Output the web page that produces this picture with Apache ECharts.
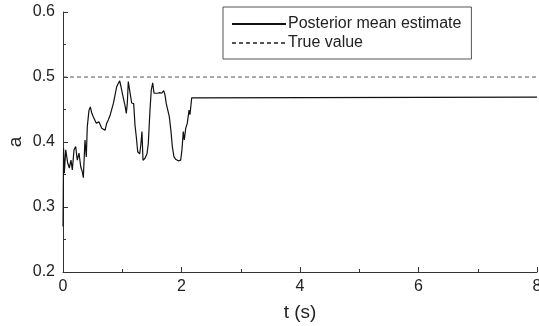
<!DOCTYPE html>
<html>
<head>
<meta charset="utf-8">
<script src="https://cdn.jsdelivr.net/npm/echarts@6/dist/echarts.min.js"></script>
<style>
html, body { margin: 0; padding: 0; background: #fff; }
#chart { width: 539px; height: 326px; }
</style>
</head>
<body>
<div id="chart"></div>
<script>
// time (s) of the posterior mean estimate samples
var timeValues = [0, 0.01, 0.022, 0.046, 0.079, 0.106, 0.135, 0.157, 0.186, 0.214, 0.241, 0.27,
    0.299, 0.326, 0.343, 0.371, 0.393, 0.41, 0.439, 0.461, 0.484, 0.511, 0.54, 0.562,
    0.586, 0.608, 0.63, 0.653, 0.68, 0.709, 0.738, 0.765, 0.798, 0.822, 0.849, 0.878,
    0.906, 0.933, 0.957, 0.979, 1.008, 1.03, 1.051, 1.068, 1.085, 1.102, 1.131, 1.159,
    1.193, 1.215, 1.237, 1.261, 1.295, 1.316, 1.333, 1.35, 1.384, 1.418, 1.44, 1.468,
    1.49, 1.514, 1.536, 1.565, 1.598, 1.632, 1.666, 1.7, 1.722, 1.743, 1.767, 1.794,
    1.823, 1.845, 1.873, 1.907, 1.946, 1.986, 2.008, 2.03, 2.047, 2.071, 2.098, 2.127,
    2.143, 2.172, 8];
var estimateValues = [0.27, 0.39, 0.352, 0.388, 0.368, 0.36, 0.372, 0.357, 0.388, 0.393, 0.372, 0.383,
    0.362, 0.354, 0.345, 0.403, 0.377, 0.424, 0.449, 0.454, 0.445, 0.439, 0.439, 0.429,
    0.426, 0.431, 0.426, 0.421, 0.421, 0.418, 0.429, 0.434, 0.442, 0.444, 0.459, 0.472,
    0.485, 0.49, 0.494, 0.485, 0.472, 0.47, 0.454, 0.444, 0.459, 0.493, 0.491, 0.46,
    0.459, 0.426, 0.408, 0.385, 0.382, 0.398, 0.416, 0.372, 0.375, 0.382, 0.398, 0.449,
    0.48, 0.491, 0.475, 0.478, 0.475, 0.476, 0.475, 0.479, 0.472, 0.459, 0.457, 0.439,
    0.416, 0.393, 0.377, 0.373, 0.371, 0.372, 0.388, 0.416, 0.403, 0.421, 0.429, 0.449,
    0.442, 0.468, 0.469];
var trueTimes = [0, 8];
var trueValues = [0.5, 0.5];

var font = 'Liberation Sans, Arial, sans-serif';

function pairs(xs, ys) {
    var out = [];
    xs.forEach(function (x, i) { out.push([x, ys[i]]); });
    return out;
}

var myChart = echarts.init(document.getElementById('chart'));
var option = {
    animation: false,
    backgroundColor: '#fff',
    textStyle: { fontFamily: font },
    grid: { left: 63, top: 12, right: 2, bottom: 54, containLabel: false, outerBoundsMode: 'none' },
    legend: {
        orient: 'vertical',
        left: 223,
        top: 7,
        width: 247,
        padding: [9, 10, 8, 8],
        itemGap: 3,
        itemWidth: 54,
        itemHeight: 14,
        borderColor: '#555',
        borderWidth: 1,
        itemStyle: { opacity: 0 },
        textStyle: { fontSize: 16, color: '#222', fontFamily: font, padding: [0, 0, 0, -3] },
        data: ['Posterior mean estimate', 'True value']
    },
    xAxis: {
        type: 'value',
        min: 0,
        max: 8,
        interval: 2,
        name: 't (s)',
        nameLocation: 'middle',
        nameGap: 31,
        nameMoveOverlap: false,
        nameTextStyle: { fontSize: 19, color: '#222', fontFamily: font },
        axisLine: { lineStyle: { color: '#333', width: 1 } },
        axisTick: { inside: true, length: 5, lineStyle: { color: '#333' } },
        minorTick: { show: true, splitNumber: 2, length: 3, lineStyle: { color: '#333' } },
        axisLabel: { fontSize: 16, color: '#222', margin: 7, fontFamily: font },
        splitLine: { show: false }
    },
    yAxis: {
        type: 'value',
        min: 0.2,
        max: 0.6,
        interval: 0.1,
        name: 'a',
        nameLocation: 'middle',
        nameGap: 38,
        nameMoveOverlap: false,
        nameTextStyle: { fontSize: 19, color: '#222', fontFamily: font },
        axisLine: { show: true, lineStyle: { color: '#333', width: 1 } },
        axisTick: { show: true, inside: true, length: 5, lineStyle: { color: '#333' } },
        minorTick: { show: true, splitNumber: 2, length: 3, lineStyle: { color: '#333' } },
        axisLabel: { fontSize: 16, color: '#222', margin: 8, fontFamily: font,
            formatter: function (v) { return v.toFixed(1); } },
        splitLine: { show: false }
    },
    series: [
        {
            name: 'Posterior mean estimate',
            type: 'line',
            symbol: 'none',
            lineStyle: { color: '#111', width: 1.2 },
            itemStyle: { color: '#111' },
            data: pairs(timeValues, estimateValues)
        },
        {
            name: 'True value',
            type: 'line',
            symbol: 'none',
            lineStyle: { color: '#555', width: 1, type: [4, 3] },
            itemStyle: { color: '#555' },
            data: pairs(trueTimes, trueValues)
        }
    ]
};
myChart.setOption(option);
</script>
</body>
</html>
